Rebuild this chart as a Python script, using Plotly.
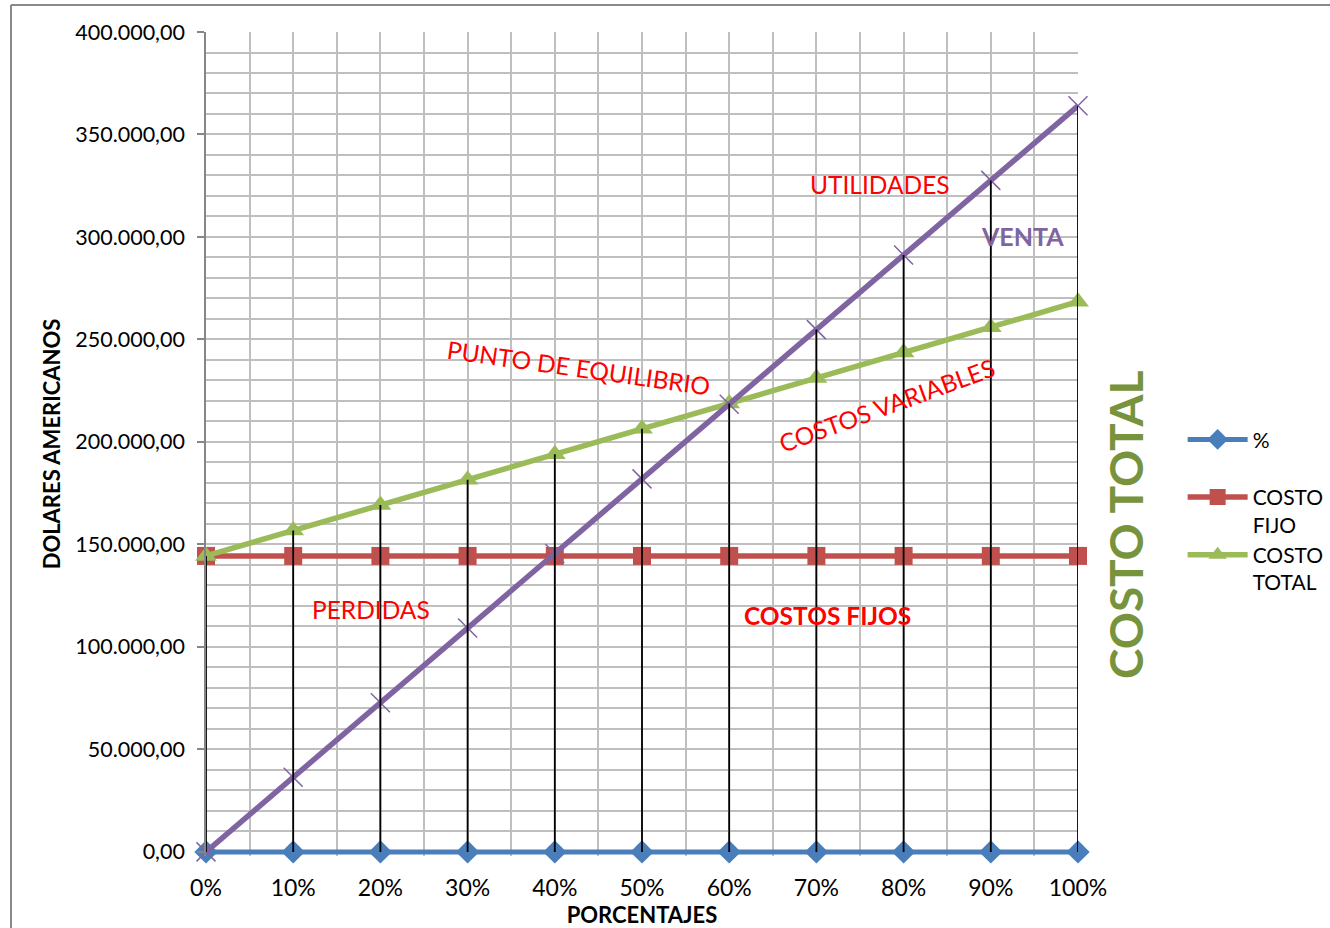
import plotly.graph_objects as go

categorias = ["0%", "10%", "20%", "30%", "40%", "50%", "60%", "70%", "80%", "90%", "100%"]
porcentaje = [0, 0, 0, 0, 0, 0, 0, 0, 0, 0, 0]
costo_fijo = [144400, 144400, 144400, 144400, 144400, 144400, 144400, 144400, 144400, 144400, 144400]
costo_total = [144400, 156800, 169200, 181600, 194000, 206400, 218800, 231200, 243600, 256000, 268400]
venta = [0, 36400, 72800, 109200, 145600, 182000, 218400, 254800, 291200, 327600, 364000]
y_ticks = [0, 50000, 100000, 150000, 200000, 250000, 300000, 350000, 400000]

xi = list(range(len(categorias)))
FONT = "Lato"

fig = go.Figure()
fig.add_trace(go.Scatter(x=xi, y=porcentaje, name="%<br> ", mode="lines+markers", cliponaxis=False,
                         line=dict(color="#4A7EBB", width=5),
                         marker=dict(symbol="diamond", size=18, color="#4A7EBB")))
fig.add_trace(go.Scatter(x=xi, y=costo_fijo, name="COSTO<br>FIJO", mode="lines+markers", cliponaxis=False,
                         line=dict(color="#C0504D", width=5.5),
                         marker=dict(symbol="square", size=18, color="#C0504D")))
fig.add_trace(go.Scatter(x=xi, y=costo_total, name="COSTO<br>TOTAL", mode="lines+markers", cliponaxis=False,
                         line=dict(color="#9BBB59", width=5.5),
                         marker=dict(symbol="triangle-up", size=19, color="#9BBB59")))
fig.add_trace(go.Scatter(x=xi, y=venta, name="VENTA", mode="lines+markers", showlegend=False, cliponaxis=False,
                         line=dict(color="#8064A2", width=5.5),
                         marker=dict(symbol="x-thin", size=19, line=dict(color="#8064A2", width=1.5))))

# drop lines from highest series to the axis
dx, dy = [], []
for i in xi:
    top = max(porcentaje[i], costo_fijo[i], costo_total[i], venta[i])
    dx += [i, i, None]
    dy += [0, top, None]
fig.add_trace(go.Scatter(x=dx, y=dy, mode="lines", showlegend=False, hoverinfo="skip", cliponaxis=False,
                         line=dict(color="black", width=1.8)))

grid = "#BFBFBF"
fig.update_layout(
    width=1330, height=928, autosize=False,
    margin=dict(l=206, r=252, t=32, b=72, autoexpand=False),
    paper_bgcolor="white", plot_bgcolor="white",
    separators=",.",
    font=dict(family=FONT, size=22, color="black"),
    showlegend=True,
    legend=dict(x=1.12, y=0.53, xanchor="left", yanchor="top", valign="top",
                font=dict(family=FONT, size=21, color="black"),
                itemwidth=60, bgcolor="rgba(0,0,0,0)"),
    xaxis=dict(range=[0, 10], tickvals=xi, ticktext=categorias, automargin=False,
               showgrid=True, gridcolor=grid, gridwidth=1.5,
               minor=dict(dtick=0.5, tick0=0, showgrid=True, gridcolor=grid, gridwidth=1.5),
               showline=False, zeroline=False,
               ticks="outside", ticklen=11, tickcolor="rgba(0,0,0,0)",
               tickfont=dict(family=FONT, size=23),
               title=dict(text="<b>PORCENTAJES</b>", font=dict(family=FONT, size=22), standoff=4)),
    yaxis=dict(range=[-2000, 400000], tickvals=y_ticks, tickformat=",.2f", automargin=False,
               showgrid=True, gridcolor=grid, gridwidth=1.5,
               minor=dict(dtick=10000, tick0=0, showgrid=True, gridcolor=grid, gridwidth=1.5),
               showline=True, linecolor="#868686", linewidth=1.5,
               ticks="outside", ticklen=7, tickcolor="#868686", tickwidth=1.5,
               ticklabelstandoff=8,
               zeroline=False,
               tickfont=dict(family=FONT, size=21.5),
               title=dict(text="<b>DOLARES AMERICANOS</b>", font=dict(family=FONT, size=22), standoff=9)),
)

PLOT_H = 928 - 32 - 72

def px_x(p):
    return (p - 206) / 872.0

def px_y(p):
    return (928 - 72 - p) / float(PLOT_H)

ann = [
    dict(text="UTILIDADES", x=880, y=185, color="#FF0000", size=24.5, angle=0, bold=False),
    dict(text="VENTA", x=1022, y=236, color="#8064A2", size=25, angle=0, bold=True),
    dict(text="PUNTO DE EQUILIBRIO", x=578, y=367, color="#FF0000", size=24.5, angle=8, bold=False),
    dict(text="COSTOS VARIABLES", x=886, y=405, color="#FF0000", size=24.5, angle=-20, bold=False),
    dict(text="PERDIDAS", x=371, y=609, color="#FF0000", size=24.5, angle=0, bold=False),
    dict(text="COSTOS FIJOS", x=827, y=615, color="#FF0000", size=24.5, angle=0, bold=True),
    dict(text="COSTO TOTAL", x=1125, y=525, color="#77933C", size=46, angle=-90, bold=True),
]
for a in ann:
    t = "<b>%s</b>" % a["text"] if a["bold"] else a["text"]
    fig.add_annotation(x=px_x(a["x"]), y=px_y(a["y"]), xref="paper", yref="paper",
                       text=t, showarrow=False, textangle=a["angle"],
                       font=dict(family=FONT, size=a["size"], color=a["color"]),
                       xanchor="center", yanchor="middle")

# outer chart border (only left and top visible)
fig.add_shape(type="line", xref="paper", yref="paper",
              x0=px_x(11), x1=px_x(1340), y0=px_y(5), y1=px_y(5),
              line=dict(color="#898989", width=2))
fig.add_shape(type="line", xref="paper", yref="paper",
              x0=px_x(11), x1=px_x(11), y0=px_y(5), y1=px_y(940),
              line=dict(color="#898989", width=2))

fig.write_html("out.html",
               config={"responsive": False, "displayModeBar": False},
               post_script="document.body.style.margin='0px';document.body.style.overflow='hidden';")
